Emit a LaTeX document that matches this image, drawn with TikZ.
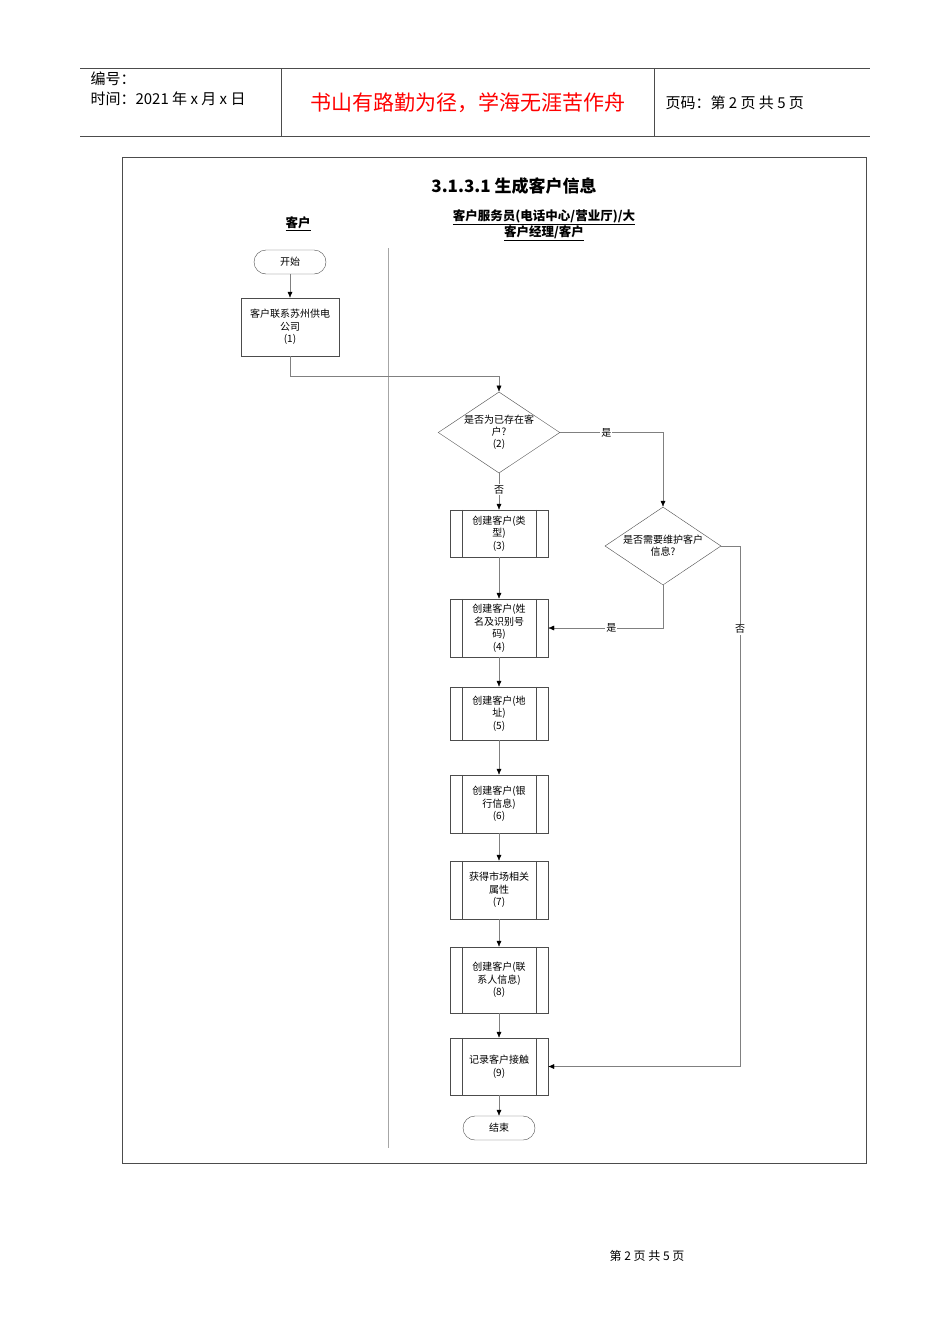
\documentclass[tikz,border=0pt]{standalone}
\usepackage{fontspec}
\setmainfont{Noto Sans CJK SC}
\usetikzlibrary{shapes.geometric,arrows.meta}
\begin{document}
\begin{tikzpicture}[x=1pt,y=-1pt,
  proc/.style={draw=black!70,minimum width=98pt,align=center,font=\fontsize{10}{12.5}\selectfont,text width=70pt,inner sep=1pt},
  term/.style={draw=black!70,rounded corners=12pt,minimum width=72pt,minimum height=24pt,font=\fontsize{10}{12}\selectfont},
  dec/.style={draw=black!70,diamond,aspect=1.5,minimum width=116pt,minimum height=78pt,inner sep=0pt,align=center,font=\fontsize{10}{12}\selectfont},
  conn/.style={draw=black!50,arrows={-{Latex[length=6pt,width=5pt,black]}}},
  lab/.style={font=\fontsize{10}{12}\selectfont,fill=white,inner sep=1pt}]
\useasboundingbox (0,0) rectangle (950,1344);
% header
\draw[black!70,line width=0.8pt] (80,68) -- (870,68) (80,136) -- (870,136) (281,68) -- (281,136) (654,68) -- (654,136);
\node[anchor=west,font=\fontsize{15}{17}\selectfont] (h1) at (87,79) {编号：};
\node[anchor=west,font=\fontsize{15}{17}\selectfont] (h2) at (87,99) {时间：2021 年 x 月 x 日};
\node[red,font=\fontsize{21}{23}\selectfont] (h3) at (468,103) {书山有路勤为径，学海无涯苦作舟};
\node[anchor=west,font=\fontsize{15}{17}\selectfont] (h4) at (662,103) {页码：第 2 页 共 5 页};
% frame
\draw[black!70,line width=0.8pt] (122,157) rectangle (866,1163);
\node[font=\bfseries\fontsize{17}{19}\selectfont] (title) at (514,186) {3.1.3.1 生成客户信息};
\node[font=\bfseries\fontsize{12.5}{15}\selectfont] (lane1) at (298,224) {\underline{客户}};
\node[font=\bfseries\fontsize{12.5}{16}\selectfont,align=center] (lane2) at (544,225) {\underline{客户服务员(电话中心/营业厅)/大}\\\underline{客户经理/客户}};
\draw[black!35] (388,248) -- (388,1148);
% nodes
\node[term] (start) at (290,262) {开始};
\node[proc,minimum height=58pt,text width=88pt] (b1) at (290,327) {客户联系苏州供电\\公司\\(1)};
\node[dec] (d1) at (499,432.5) {是否为已存在客\\户?\\(2)};
\node[dec] (d2) at (663,546) {是否需要维护客户\\信息?};
\foreach \n/\y/\h/\t in {b3/533.5/47/{创建客户(类\\型)\\(3)},b4/628/58/{创建客户(姓\\名及识别号\\码)\\(4)},b5/713.5/53/{创建客户(地\\址)\\(5)},b6/804/58/{创建客户(银\\行信息)\\(6)},b7/890/58/{获得市场相关\\属性\\(7)},b8/980/66/{创建客户(联\\系人信息)\\(8)},b9/1066.5/57/{记录客户接触\\(9)}}{
  \node[proc,minimum height=\h pt,text width=70pt] (\n) at (499,\y) {\t};
  \draw[black!70] ([xshift=12pt]\n.north west) -- ([xshift=12pt]\n.south west) ([xshift=-12pt]\n.north east) -- ([xshift=-12pt]\n.south east);
}
\node[term] (end) at (499,1128) {结束};
% connectors
\coordinate (c1) at (290,376);
\coordinate (c2) at (499,376);
\draw[conn] (start) -- (b1);
\draw[conn] (b1.south) -- (c1) -- (c2) -- (d1.north);
\draw[conn] (d1.south) -- node[lab,pos=0.45]{否} (b3.north);
\draw[conn] (d1.east) -- node[lab,pos=0.45]{是} (d1.east -| d2.north) -- (d2.north);
\draw[conn] (d2.south) -- (d2.south |- b4.east) -- node[lab,pos=0.45]{是} (b4.east);
\coordinate (c3) at (740,546);
\draw[conn] (d2.east) -- (c3) -- node[lab,pos=0.16]{否} (c3 |- b9.east) -- (b9.east);
\draw[conn] (b3) -- (b4);
\draw[conn] (b4) -- (b5);
\draw[conn] (b5) -- (b6);
\draw[conn] (b6) -- (b7);
\draw[conn] (b7) -- (b8);
\draw[conn] (b8) -- (b9);
\draw[conn] (b9) -- (end);
\node[font=\fontsize{12}{14}\selectfont] (foot) at (647,1256) {第 2 页 共 5 页};
\end{tikzpicture}
\end{document}
